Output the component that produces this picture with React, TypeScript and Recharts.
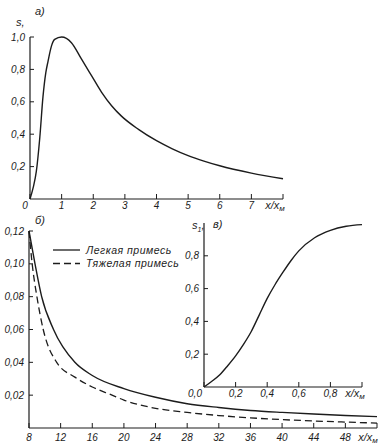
import React from 'react';
import { LineChart, Line, XAxis, YAxis, Legend } from 'recharts';

// ---------- data ----------
// panel a): s vs x/x_м
const aX = [0, 0.1, 0.2, 0.31, 0.41, 0.5, 0.57, 0.68, 0.78, 1.0, 1.31, 1.63, 1.95, 2.26, 2.58, 2.9, 3.43, 4, 4.5, 5, 5.5, 6, 7, 8];
const aS = [0, 0.07, 0.17, 0.38, 0.63, 0.78, 0.85, 0.945, 0.985, 1.0, 0.965, 0.863, 0.76, 0.66, 0.576, 0.51, 0.43, 0.36, 0.31, 0.268, 0.234, 0.205, 0.16, 0.125];
const aXTicks = [0, 1, 2, 3, 4, 5, 6, 7, 8];
const aYTicks = [0.2, 0.4, 0.6, 0.8, 1.0];

// panel б): light and heavy admixture
const seriesNames = ['Легкая примесь', 'Тяжелая примесь'];
const bLightX = [8, 8.76, 9.6, 11.1, 13.8, 16, 20, 24, 28, 32, 36, 40, 44, 48, 52];
const bLight = [0.12, 0.1, 0.08, 0.06, 0.04, 0.032, 0.024, 0.0187, 0.0148, 0.0125, 0.0107, 0.0095, 0.0085, 0.0076, 0.0069];
const bHeavyX = [8, 8.4, 9.0, 9.8, 11.5, 13.8, 16, 18.5, 20, 24, 28, 32, 36, 40, 44, 48, 52];
const bHeavy = [0.12, 0.1, 0.08, 0.06, 0.04, 0.031, 0.025, 0.02, 0.017, 0.012, 0.0095, 0.0076, 0.0062, 0.0051, 0.0043, 0.0036, 0.003];
const bXTicks = [8, 12, 16, 20, 24, 28, 32, 36, 40, 44, 48, 52];
const bYTicks = [0.02, 0.04, 0.06, 0.08, 0.1, 0.12];

// panel в): s1 vs x/x_м
const cX = [0, 0.05, 0.1, 0.15, 0.2, 0.25, 0.3, 0.35, 0.4, 0.45, 0.5, 0.55, 0.6, 0.7, 0.8, 0.9, 1.0];
const cS = [0, 0.035, 0.075, 0.13, 0.19, 0.26, 0.34, 0.44, 0.54, 0.625, 0.7, 0.77, 0.83, 0.91, 0.955, 0.98, 0.99];
const cXTicks = [0, 0.2, 0.4, 0.6, 0.8, 1.0];
const cYTicks = [0.2, 0.4, 0.6, 0.8];

const aData = aX.map((x, i) => ({ x, s: aS[i] }));
const bLightData = bLightX.map((x, i) => ({ x, s: bLight[i] }));
const bHeavyData = bHeavyX.map((x, i) => ({ x, s: bHeavy[i] }));
const cData = cX.map((x, i) => ({ x, s: cS[i] }));

// ---------- style ----------
const FONT = '"Liberation Sans", Arial, sans-serif';
const INK = '#1c1c1c';
const FS = 10;

const comma = (d: number) => (v: number) => v.toFixed(d).replace('.', ',');

type XTickCfg = { dy: number; unitValue: number; unitDx: number; fmt: (v: number) => string; zeroDx?: number };

function makeXTick(cfg: XTickCfg) {
  return (props: any) => {
    const { x, y, payload } = props;
    const v = payload.value as number;
    return (
      <g>
        <line x1={x} x2={x} y1={y} y2={y - 5} stroke={INK} strokeWidth={1} />
        {v === cfg.unitValue ? (
          <text x={x + cfg.unitDx} y={y + cfg.dy} textAnchor="middle" fontFamily={FONT} fontStyle="italic" fontSize={11} fill={INK}>
            x/x<tspan fontSize={8} dy={2}>м</tspan>
          </text>
        ) : (
          <text x={x + (v === 0 ? cfg.zeroDx || 0 : 0)} y={y + cfg.dy} textAnchor="middle" fontFamily={FONT} fontStyle="italic" fontSize={FS} fill={INK}>
            {cfg.fmt(v)}
          </text>
        )}
      </g>
    );
  };
}

function makeYTick(fmt: (v: number) => string) {
  return (props: any) => {
    const { x, y, payload } = props;
    const v = payload.value as number;
    return (
      <g>
        <line x1={x} x2={x + 4} y1={y} y2={y} stroke={INK} strokeWidth={1} />
        <text x={x - 5} y={y + 3.6} textAnchor="end" fontFamily={FONT} fontStyle="italic" fontSize={FS} fill={INK}>
          {fmt(v)}
        </text>
      </g>
    );
  };
}

const axisLine = { stroke: INK, strokeWidth: 1.2 };

const renderLegend = (props: any) => {
  const payload = props.payload || [];
  return (
    <svg width={130} height={28} style={{ display: 'block', overflow: 'visible' }}>
      {payload.map((e: any, i: number) => {
        const cy = 6 + i * 13.5;
        const dash = e.payload && e.payload.strokeDasharray;
        return (
          <g key={i}>
            <line x1={0} x2={27} y1={cy} y2={cy} stroke={INK} strokeWidth={1.3} strokeDasharray={dash} />
            <text x={33} y={cy + 3.8} fontFamily={FONT} fontStyle="italic" fontSize={10.5} letterSpacing={0.5} fill={INK}>
              {e.value}
            </text>
          </g>
        );
      })}
    </svg>
  );
};

const lab = (left: number, top: number, text: React.ReactNode) => (
  <div
    style={{
      position: 'absolute',
      left,
      top,
      fontFamily: FONT,
      fontStyle: 'italic',
      fontSize: 11,
      lineHeight: '12px',
      color: INK,
      whiteSpace: 'nowrap',
    }}
  >
    {text}
  </div>
);

export default function App() {
  return (
    <div style={{ position: 'absolute', left: 0, top: 0, width: 386, height: 448, background: '#fff', overflow: 'hidden' }}>
      {/* panel a */}
      <div style={{ position: 'absolute', left: 0, top: 0 }}>
        <LineChart width={386} height={215} margin={{ top: 37, left: 0, right: 103, bottom: 0 }}>
          <XAxis
            dataKey="x"
            type="number"
            domain={[0, 8]}
            ticks={aXTicks}
            interval={0}
            height={16}
            tickSize={0}
            tickMargin={0}
            tickLine={false}
            axisLine={axisLine}
            tick={makeXTick({ dy: 10.3, unitValue: 8, unitDx: -8, fmt: (v) => String(v), zeroDx: -5 })}
          />
          <YAxis
            type="number"
            domain={[0, 1]}
            ticks={aYTicks}
            interval={0}
            width={30}
            tickSize={0}
            tickMargin={0}
            tickLine={false}
            axisLine={axisLine}
            tick={makeYTick(comma(1))}
          />
          <Line data={aData} dataKey="s" type="monotone" stroke={INK} strokeWidth={1.4} dot={false} isAnimationActive={false} />
        </LineChart>
      </div>

      {/* panel б */}
      <div style={{ position: 'absolute', left: 0, top: 210 }}>
        <LineChart width={386} height={238} margin={{ top: 21, left: 0, right: 9, bottom: 0 }}>
          <XAxis
            dataKey="x"
            type="number"
            domain={[8, 52]}
            ticks={bXTicks}
            interval={0}
            height={20}
            tickSize={0}
            tickMargin={0}
            tickLine={false}
            axisLine={axisLine}
            tick={makeXTick({ dy: 13.3, unitValue: 52, unitDx: -9, fmt: (v) => String(v) })}
          />
          <YAxis
            type="number"
            domain={[0, 0.12]}
            ticks={bYTicks}
            interval={0}
            width={29}
            tickSize={0}
            tickMargin={0}
            tickLine={false}
            axisLine={axisLine}
            tick={makeYTick(comma(2))}
          />
          <Legend
            layout="vertical"
            align="center"
            verticalAlign="middle"
            content={renderLegend}
            wrapperStyle={{ position: 'absolute', left: 53, top: 34, width: 130, height: 28 }}
          />
          <Line name={seriesNames[0]} data={bLightData} dataKey="s" type="monotone" stroke={INK} strokeWidth={1.4} dot={false} isAnimationActive={false} />
          <Line name={seriesNames[1]} data={bHeavyData} dataKey="s" type="monotone" stroke={INK} strokeWidth={1.3} strokeDasharray="7 4" dot={false} isAnimationActive={false} />
        </LineChart>
      </div>

      {/* panel в (inset) */}
      <div style={{ position: 'absolute', left: 180, top: 210 }}>
        <LineChart width={200} height={200} margin={{ top: 13, left: 0, right: 18, bottom: 0 }}>
          <XAxis
            dataKey="x"
            type="number"
            domain={[0, 1]}
            ticks={cXTicks}
            interval={0}
            height={23}
            tickSize={0}
            tickMargin={0}
            tickLine={false}
            axisLine={axisLine}
            tick={makeXTick({ dy: 10, unitValue: 1, unitDx: -7, fmt: comma(1), zeroDx: -9 })}
          />
          <YAxis
            type="number"
            domain={[0, 1]}
            ticks={cYTicks}
            interval={0}
            width={24}
            tickSize={0}
            tickMargin={0}
            tickLine={false}
            axisLine={axisLine}
            tick={makeYTick(comma(1))}
          />
          <Line data={cData} dataKey="s" type="monotone" stroke={INK} strokeWidth={1.4} dot={false} isAnimationActive={false} />
        </LineChart>
      </div>

      {lab(35, 5, 'а)')}
      {lab(16, 16, 's,')}
      {lab(35, 214, 'б)')}
      {lab(192, 219, <span>s<sub style={{ fontSize: 7 }}>1</sub>,</span>)}
      {lab(213, 218, 'в)')}
    </div>
  );
}
